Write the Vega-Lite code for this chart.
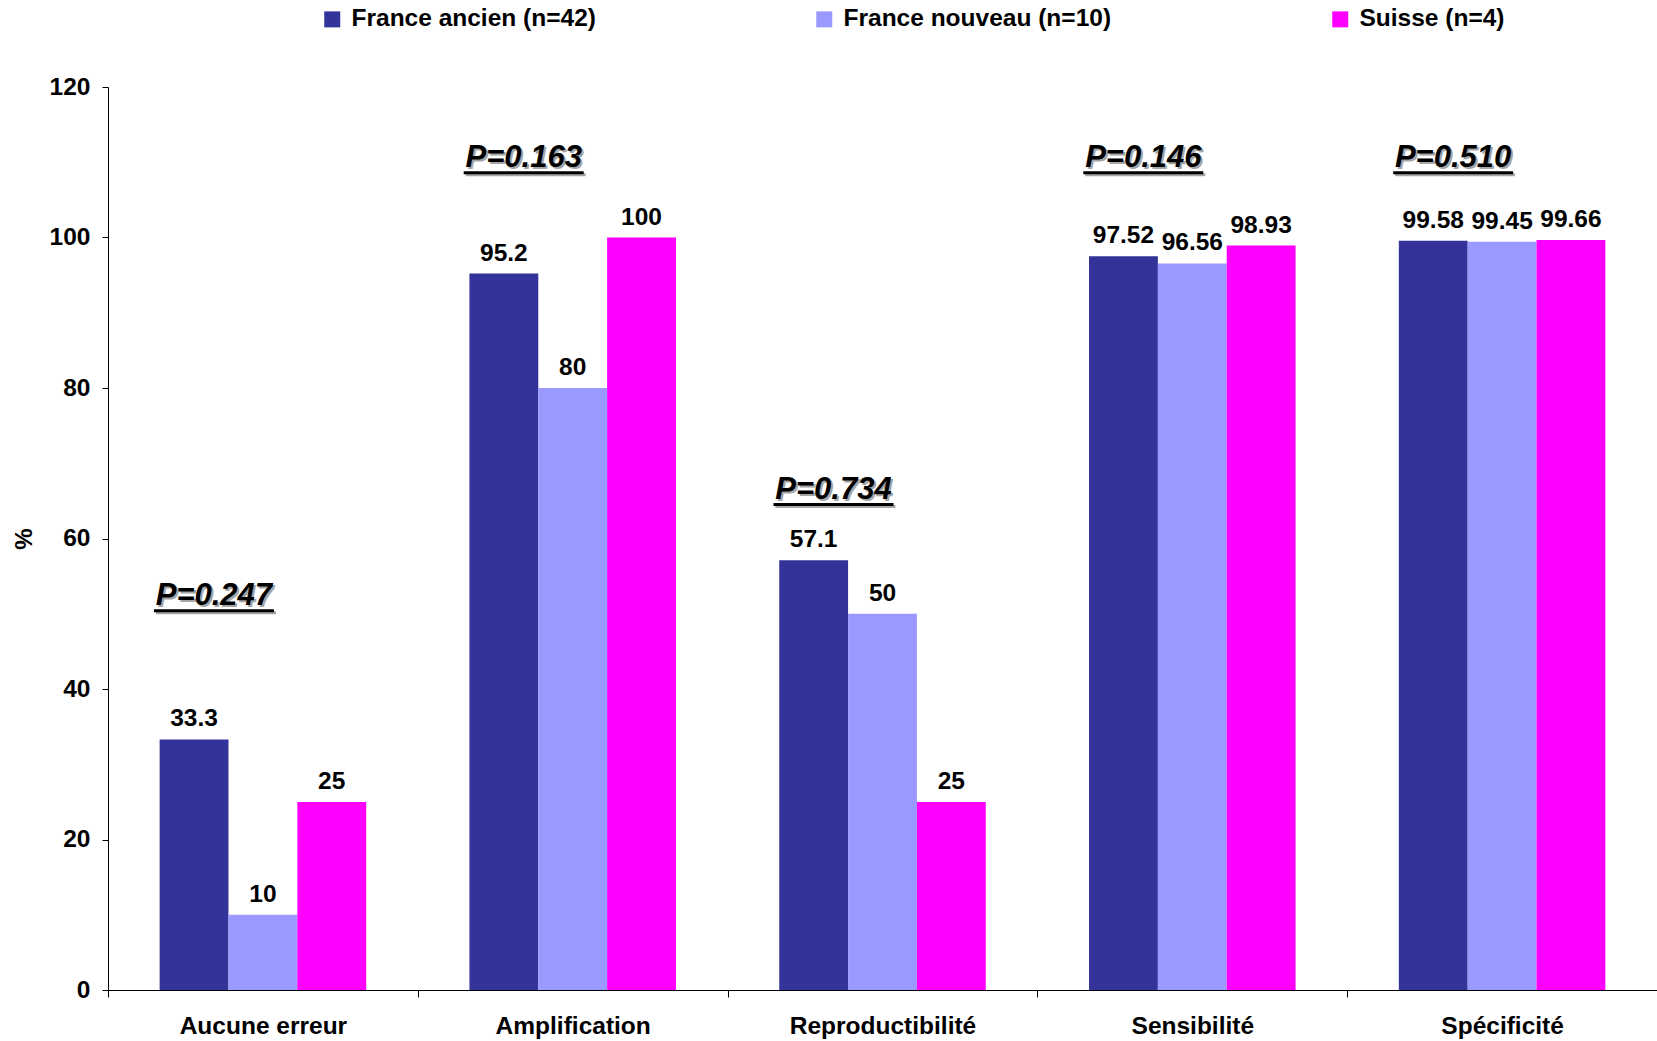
{
  "$schema": "https://vega.github.io/schema/vega-lite/v6.json",
  "width": 1549,
  "height": 903,
  "autosize": {"type": "none"},
  "padding": {"left": 108, "top": 87, "right": 0, "bottom": 51},
  "background": "white",
  "config": {
    "font": "Liberation Sans",
    "view": {"stroke": null},
    "axis": {"labelFont": "Liberation Sans", "titleFont": "Liberation Sans"}
  },
  "datasets": {
    "bars": [
      {"category": "Aucune erreur", "series": "France ancien (n=42)", "value": 33.3},
      {"category": "Aucune erreur", "series": "France nouveau (n=10)", "value": 10},
      {"category": "Aucune erreur", "series": "Suisse (n=4)", "value": 25},
      {"category": "Amplification", "series": "France ancien (n=42)", "value": 95.2},
      {"category": "Amplification", "series": "France nouveau (n=10)", "value": 80},
      {"category": "Amplification", "series": "Suisse (n=4)", "value": 100},
      {"category": "Reproductibilité", "series": "France ancien (n=42)", "value": 57.1},
      {"category": "Reproductibilité", "series": "France nouveau (n=10)", "value": 50},
      {"category": "Reproductibilité", "series": "Suisse (n=4)", "value": 25},
      {"category": "Sensibilité", "series": "France ancien (n=42)", "value": 97.52},
      {"category": "Sensibilité", "series": "France nouveau (n=10)", "value": 96.56},
      {"category": "Sensibilité", "series": "Suisse (n=4)", "value": 98.93},
      {"category": "Spécificité", "series": "France ancien (n=42)", "value": 99.58},
      {"category": "Spécificité", "series": "France nouveau (n=10)", "value": 99.45},
      {"category": "Spécificité", "series": "Suisse (n=4)", "value": 99.66}
    ],
    "pvals": [
      {"category": "Aucune erreur", "p": "P=0.247", "py": 52.4},
      {"category": "Amplification", "p": "P=0.163", "py": 110.6},
      {"category": "Reproductibilité", "p": "P=0.734", "py": 66.5},
      {"category": "Sensibilité", "p": "P=0.146", "py": 110.6},
      {"category": "Spécificité", "p": "P=0.510", "py": 110.6}
    ]
  },
  "layer": [
    {
      "data": {"name": "bars"},
      "mark": {"type": "bar"},
      "encoding": {
        "x": {
          "field": "category", "type": "nominal", "sort": null,
          "scale": {"paddingInner": 0, "paddingOuter": 0},
          "axis": {
            "title": null, "labelAngle": 0, "labelFontSize": 24.5, "labelFontWeight": "bold",
            "labelColor": "#000", "domainColor": "#000", "tickColor": "#000",
            "tickSize": 7, "tickBand": "extent", "labelPadding": 17, "labelLimit": 400
          }
        },
        "xOffset": {
          "field": "series", "type": "nominal", "sort": null,
          "scale": {"paddingInner": 0, "paddingOuter": 0.75}
        },
        "y": {
          "field": "value", "type": "quantitative",
          "scale": {"domain": [0, 120], "nice": false},
          "axis": {
            "title": "%", "titleFontSize": 24, "titleFontWeight": "bold", "titleColor": "#000",
            "titlePadding": 13, "values": [0, 20, 40, 60, 80, 100, 120],
            "labelFontSize": 24.5, "labelFontWeight": "bold", "labelColor": "#000",
            "domainColor": "#000", "tickColor": "#000", "tickSize": 6, "labelPadding": 12,
            "grid": false
          }
        },
        "color": {
          "field": "series", "type": "nominal", "sort": null,
          "scale": {
            "domain": ["France ancien (n=42)", "France nouveau (n=10)", "Suisse (n=4)"],
            "range": ["#333399", "#9999FF", "#FF00FF"]
          },
          "legend": {
            "title": null, "orient": "none", "legendX": 212, "legendY": -80,
            "direction": "horizontal", "columns": 3, "columnPadding": 216,
            "symbolType": "square", "symbolSize": 256, "symbolStrokeWidth": 0,
            "symbolOpacity": 1, "labelFontSize": 24.5, "labelFontWeight": "bold",
            "labelColor": "#000", "labelOffset": 7, "labelLimit": 400
          }
        }
      }
    },
    {
      "data": {"name": "bars"},
      "mark": {"type": "text", "baseline": "alphabetic", "align": "center", "dy": -13, "fontSize": 24.5, "fontWeight": "bold", "color": "#000"},
      "encoding": {
        "x": {"field": "category", "type": "nominal", "sort": null},
        "xOffset": {"field": "series", "type": "nominal", "sort": null},
        "y": {"field": "value", "type": "quantitative"},
        "text": {"field": "value", "type": "quantitative", "format": ".6~g"}
      }
    },
    {
      "data": {"name": "pvals"},
      "mark": {"type": "text", "baseline": "middle", "align": "center", "dx": -47, "dy": 2, "fontSize": 31, "fontWeight": "bold", "fontStyle": "italic", "color": "#a6a6a6"},
      "encoding": {
        "x": {"field": "category", "type": "nominal", "sort": null},
        "y": {"field": "py", "type": "quantitative"},
        "text": {"field": "p"}
      }
    },
    {
      "data": {"name": "pvals"},
      "mark": {"type": "tick", "orient": "horizontal", "xOffset": -47, "yOffset": 17, "size": 120, "thickness": 3, "color": "#a6a6a6", "opacity": 1},
      "encoding": {
        "x": {"field": "category", "type": "nominal", "sort": null},
        "y": {"field": "py", "type": "quantitative"}
      }
    },
    {
      "data": {"name": "pvals"},
      "mark": {"type": "text", "baseline": "middle", "align": "center", "dx": -49, "fontSize": 31, "fontWeight": "bold", "fontStyle": "italic", "color": "#000"},
      "encoding": {
        "x": {"field": "category", "type": "nominal", "sort": null},
        "y": {"field": "py", "type": "quantitative"},
        "text": {"field": "p"}
      }
    },
    {
      "data": {"name": "pvals"},
      "mark": {"type": "tick", "orient": "horizontal", "xOffset": -49, "yOffset": 15, "size": 120, "thickness": 3, "color": "#000", "opacity": 1},
      "encoding": {
        "x": {"field": "category", "type": "nominal", "sort": null},
        "y": {"field": "py", "type": "quantitative"}
      }
    }
  ]
}
